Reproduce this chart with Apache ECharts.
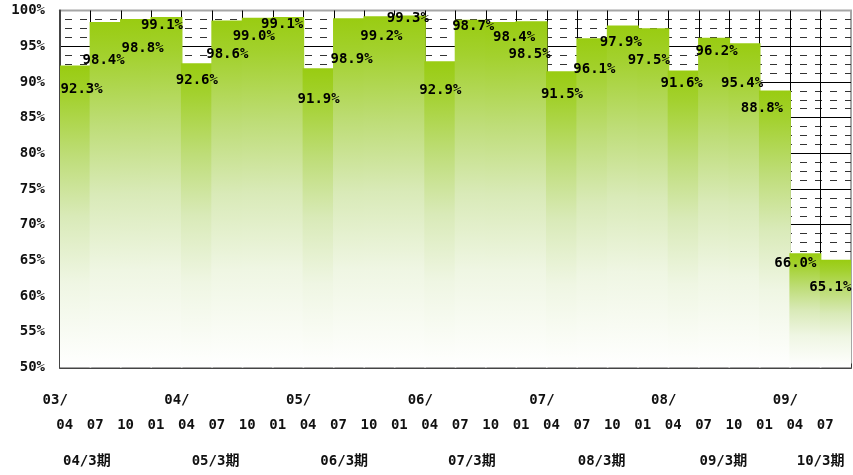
<!DOCTYPE html>
<html>
<head>
<meta charset="utf-8">
<script src="https://cdn.jsdelivr.net/npm/echarts@6/dist/echarts.min.js"></script>
<style>
html, body { margin: 0; padding: 0; background: #fff; }
#chart { width: 853px; height: 475px; }
</style>
</head>
<body>
<div id="chart"></div>
<script>
// quarter (yy/mm) for each bar
var periods = [
	'03/04', '03/07', '03/10', '04/01',
	'04/04', '04/07', '04/10', '05/01',
	'05/04', '05/07', '05/10', '06/01',
	'06/04', '06/07', '06/10', '07/01',
	'07/04', '07/07', '07/10', '08/01',
	'08/04', '08/07', '08/10', '09/01',
	'09/04', '09/07'
];
// value in %
var rates = [
	92.3, 98.4, 98.8, 99.1,
	92.6, 98.6, 99.0, 99.1,
	91.9, 98.9, 99.2, 99.3,
	92.9, 98.7, 98.4, 98.5,
	91.5, 96.1, 97.9, 97.5,
	91.6, 96.2, 95.4, 88.8,
	66.0, 65.1
];
var fiscalYears = ['04/3期', '05/3期', '06/3期', '07/3期', '08/3期', '09/3期', '10/3期'];
var yMin = 50, yMax = 100, yStep = 5;

// label nudges (dx, dy from bar top) - layout only
var labelNudge = [
	[6, 24], [-2, 38], [6.5, 29], [-4.5, 8],
	[0, 17], [0, 34], [-4, 19], [-6, 7],
	[0, 31], [2.5, 41.5], [2, 20], [-2, 3],
	[0, 29], [2.5, 7], [13, 15], [-2, 33],
	[0, 23], [2, 31], [-2, 16.5], [-4.5, 32.5],
	[-2, 12.5], [2.5, 14], [-2.5, 40.5], [-13, 18],
	[-10, 10], [-5, 28]
];
var fiscalShift = [-34, -27, -20, -14, -6, -6, 0];

var monoFont = "'DejaVu Sans Mono', 'Liberation Mono', monospace";
var chart = echarts.init(document.getElementById('chart'));

var barData = [];
for (var i = 0; i < rates.length; i++) {
	barData.push({
		value: rates[i],
		label: { offset: [labelNudge[i][0], labelNudge[i][1] - 7] }
	});
}

var option = {
	animation: false,
	backgroundColor: '#fff',
	grid: {
		left: 60, right: 2, top: 10.5, bottom: 107.5,
		outerBoundsMode: 'none',
		containLabel: false,
		show: true,
		borderColor: '#a6a6a6',
		borderWidth: 2,
		backgroundColor: '#fff'
	},
	xAxis: {
		type: 'category',
		data: periods,
		boundaryGap: true,
		axisLine: { lineStyle: { color: '#444', width: 2 } },
		axisTick: { show: true, inside: true, length: 4, interval: 0, lineStyle: { color: '#333' } },
		splitLine: {
			show: true, interval: 0, showMinLine: false, showMaxLine: false,
			lineStyle: { color: '#000', width: 1 }
		},
		axisLabel: {
			interval: 0,
			margin: 20,
			formatter: function (v) {
				var p = v.split('/');
				var top = p[1] === '04' ? p[0] + '/' : ' ';
				return '{yr|' + top + '}\n{mo|' + p[1] + '}';
			},
			rich: {
				yr: { fontFamily: monoFont, fontSize: 14, fontWeight: 'bold', color: '#111', lineHeight: 25, padding: [0, 40, 0, 0] },
				mo: { fontFamily: monoFont, fontSize: 14, fontWeight: 'bold', color: '#111', lineHeight: 25, padding: [0, 21, 0, 0] }
			}
		}
	},
	yAxis: {
		type: 'value',
		min: yMin, max: yMax, interval: yStep,
		axisLine: { show: true, lineStyle: { color: '#444', width: 2 } },
		axisTick: { show: false },
		axisLabel: {
			formatter: '{value}%',
			margin: 15,
			fontFamily: monoFont, fontSize: 14, fontWeight: 'bold', color: '#111'
		},
		splitLine: {
			show: true, showMinLine: false, showMaxLine: false,
			lineStyle: { color: '#000', width: 1 }
		},
		minorTick: { show: false, splitNumber: 4 },
		minorSplitLine: {
			show: true,
			lineStyle: { color: '#333', width: 1, type: [7, 8], dashOffset: -5 }
		}
	},
	series: [{
		type: 'bar',
		data: barData,
		barWidth: 32,
		barGap: '-100%',
		itemStyle: {
			color: new echarts.graphic.LinearGradient(0, 0, 0, 1, [
				{ offset: 0, color: '#99cc11' },
				{ offset: 0.1, color: '#a3d12e' },
				{ offset: 0.3, color: '#bedd78' },
				{ offset: 0.5, color: '#d9eab8' },
				{ offset: 0.72, color: '#eff6e3' },
				{ offset: 1, color: '#ffffff' }
			])
		},
		label: {
			show: true,
			position: 'insideTop',
			distance: 0,
			formatter: function (p) { return p.value.toFixed(1) + '%'; },
			fontFamily: monoFont, fontSize: 14, fontWeight: 'bold', color: '#000'
		}
	}]
};
chart.setOption(option);

// fiscal-year captions under each group of four quarters
var graphics = [];
for (var k = 0; k < fiscalYears.length; k++) {
	var first = k * 4;
	var last = Math.min(first + 3, periods.length - 1);
	var x1 = chart.convertToPixel({ xAxisIndex: 0 }, periods[first]);
	var x2 = chart.convertToPixel({ xAxisIndex: 0 }, periods[last]);
	var y = chart.convertToPixel({ yAxisIndex: 0 }, yMin);
	graphics.push({
		type: 'text',
		x: (x1 + x2) / 2 + fiscalShift[k],
		y: y + 94,
		style: {
			text: fiscalYears[k],
			fill: '#111',
			font: "bold 14px 'DejaVu Sans Mono', 'Noto Sans CJK JP', monospace",
			textAlign: 'center',
			textVerticalAlign: 'middle'
		}
	});
}
chart.setOption({ graphic: graphics });
</script>
</body>
</html>
